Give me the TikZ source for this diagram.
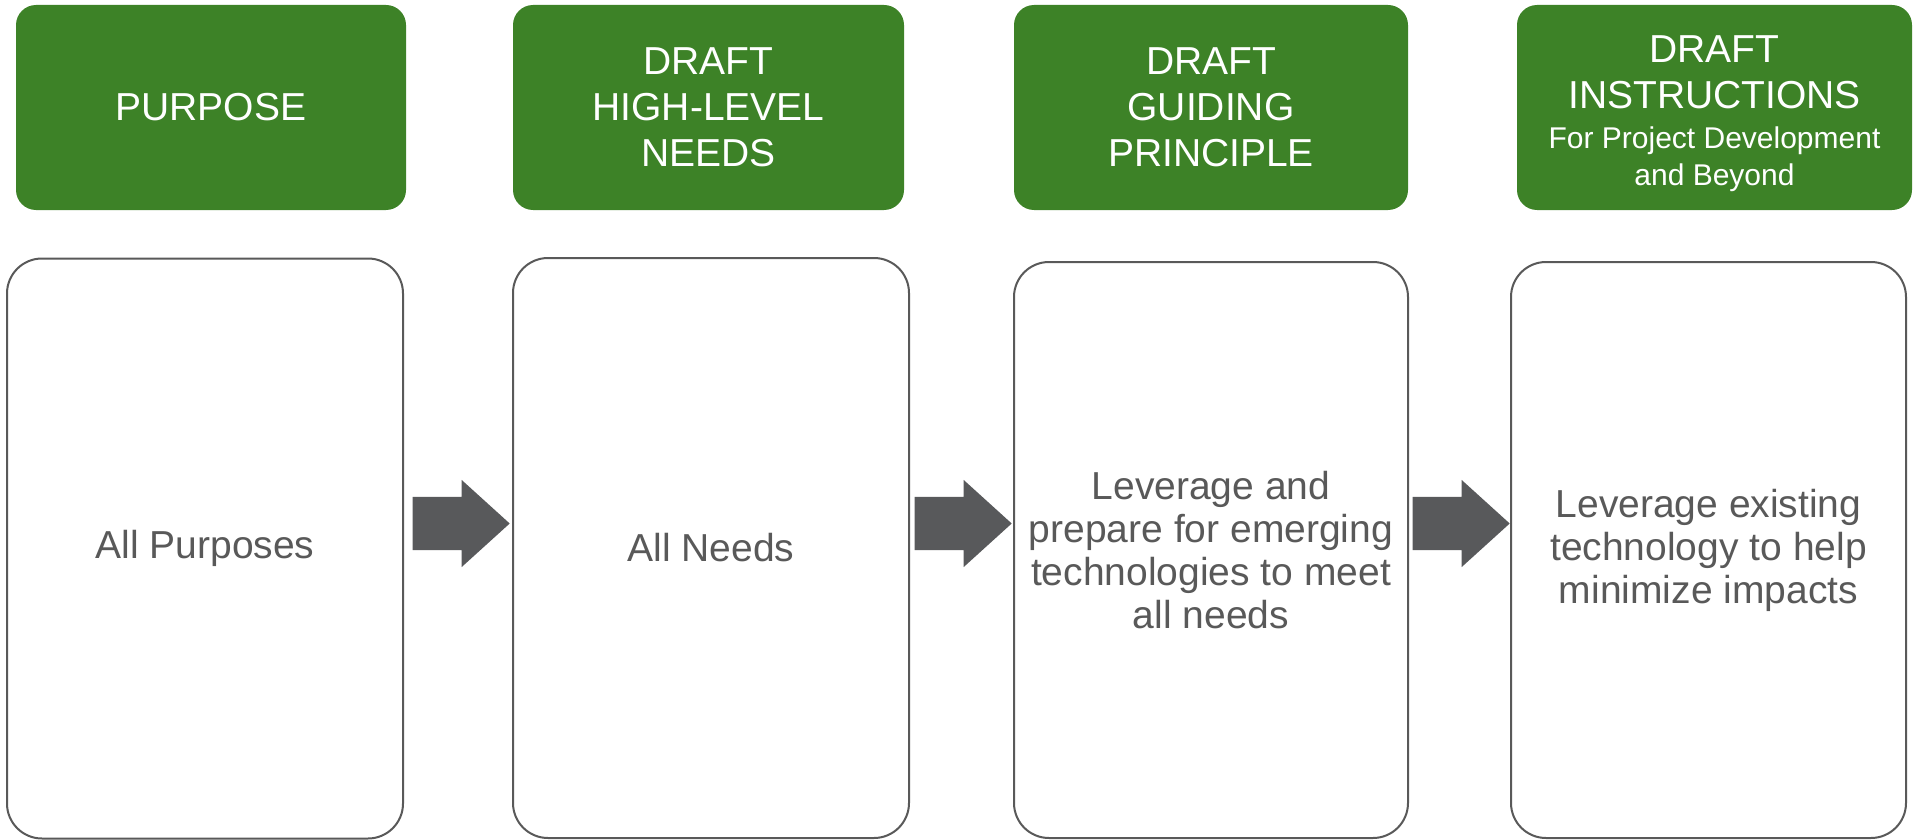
\documentclass[tikz,border=0pt]{standalone}
\usepackage{fontspec}
\usepackage{array}
\setmainfont{Liberation Sans}
\usetikzlibrary{shapes.arrows}
\definecolor{hdrgreen}{RGB}{61,130,39}
\definecolor{txtgray}{RGB}{89,89,89}
\definecolor{arrgray}{RGB}{88,89,91}
\tikzset{
  hdrbox/.style={rectangle, rounded corners=20pt, fill=hdrgreen, text=white,
    minimum height=205pt, inner sep=0pt, align=center,
    font=\fontsize{39}{46}\selectfont},
  bodybox/.style={rectangle, rounded corners=35pt, draw=txtgray, line width=2pt,
    fill=white, text=txtgray, inner sep=0pt, align=center,
    font=\fontsize{39}{43}\selectfont},
  blockarrow/.style={single arrow, fill=arrgray, draw=none, inner xsep=0pt,
    inner ysep=26.5pt, minimum height=97pt, minimum width=87pt,
    single arrow head extend=17pt, single arrow tip angle=84.4, anchor=tip}
}
\begin{document}
\begin{tikzpicture}[x=1pt,y=-1pt]
\useasboundingbox (0,0) rectangle (1920,840);
% header boxes
\node[hdrbox, minimum width=390pt] (g1) at (211,107.5) {PURPOSE};
\node[hdrbox, minimum width=391pt] (g2) at (708.5,107.5) {DRAFT\\HIGH-LEVEL\\NEEDS};
\node[hdrbox, minimum width=394pt] (g3) at (1211,107.5) {DRAFT\\GUIDING\\PRINCIPLE};
\node[hdrbox, minimum width=395pt] (g4) at (1714.5,107.5) {%
  \begin{tabular}{@{}c@{}}
  \rule{0pt}{46pt}DRAFT\\
  INSTRUCTIONS\\[-6pt]
  \fontsize{30}{36}\selectfont For Project Development\\[-9pt]
  \fontsize{30}{36}\selectfont and Beyond
  \end{tabular}};
% body boxes
\node[bodybox, minimum width=396pt, minimum height=580pt] (w1) at (205,548.5) {All Purposes};
\node[bodybox, minimum width=396pt, minimum height=580pt] (w2) at (711,548) {All Needs};
\node[bodybox, minimum width=394pt, minimum height=576pt] (w3) at (1211,550) {Leverage and\\prepare for emerging\\technologies to meet\\all needs};
\node[bodybox, minimum width=395pt, minimum height=576pt] (w4) at (1708.5,550) {Leverage existing\\technology to help\\minimize impacts};
% block arrows
\node[blockarrow] (a1) at (510,523.5) {};
\node[blockarrow] (a2) at (1012,523.5) {};
\node[blockarrow] (a3) at (1510,523.5) {};
\end{tikzpicture}
\end{document}
